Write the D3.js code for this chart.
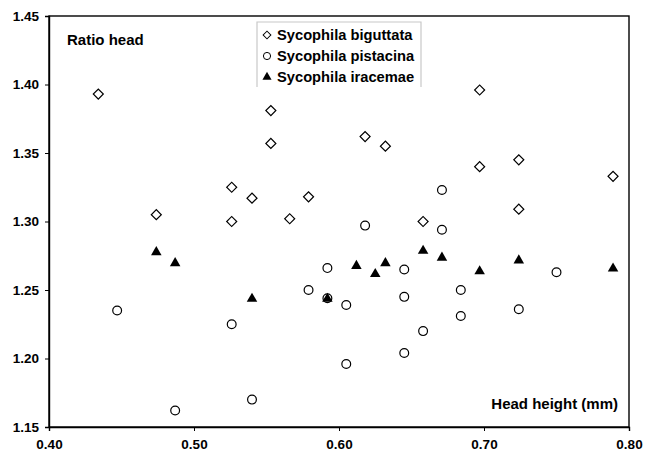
<!DOCTYPE html>
<html>
<head>
<meta charset="utf-8">
<script src="https://cdn.jsdelivr.net/npm/d3@7"></script>
<style>
  body { margin: 0; background: #fff; }
  text { font-family: "Liberation Sans", Arial, sans-serif; font-weight: bold; }
</style>
</head>
<body>
<svg id="chart" width="653" height="457"></svg>
<script>
// Sycophila biguttata
let bigX = [0.434, 0.474, 0.526, 0.526, 0.540, 0.553, 0.553, 0.566, 0.579, 0.618, 0.632, 0.658, 0.697, 0.697, 0.724, 0.724, 0.789];
let bigY = [1.393, 1.305, 1.325, 1.300, 1.317, 1.381, 1.357, 1.302, 1.318, 1.362, 1.355, 1.300, 1.396, 1.340, 1.345, 1.309, 1.333];
// Sycophila pistacina
let pisX = [0.447, 0.487, 0.526, 0.540, 0.579, 0.592, 0.592, 0.605, 0.605, 0.618, 0.645, 0.645, 0.645, 0.658, 0.671, 0.671, 0.684, 0.684, 0.724, 0.750];
let pisY = [1.235, 1.162, 1.225, 1.170, 1.250, 1.266, 1.244, 1.239, 1.196, 1.297, 1.265, 1.245, 1.204, 1.220, 1.323, 1.294, 1.250, 1.231, 1.236, 1.263];
// Sycophila iracemae
let iraX = [0.474, 0.487, 0.540, 0.592, 0.612, 0.625, 0.632, 0.658, 0.671, 0.697, 0.724, 0.789];
let iraY = [1.278, 1.270, 1.244, 1.244, 1.268, 1.262, 1.270, 1.279, 1.274, 1.264, 1.272, 1.266];

let xTicks = [0.40, 0.50, 0.60, 0.70, 0.80];
let yTicks = [1.15, 1.20, 1.25, 1.30, 1.35, 1.40, 1.45];
let seriesNames = ["Sycophila biguttata", "Sycophila pistacina", "Sycophila iracemae"];

let svg = d3.select("#chart"),
    margin = {top: 16, right: 24, bottom: 30, left: 49},
    width  = 653 - margin.left - margin.right,
    height = 457 - margin.top - margin.bottom,
    g = svg.append("g").attr("transform", `translate(${margin.left},${margin.top})`);

let x = d3.scaleLinear().domain([0.40, 0.80]).range([0, width]);
let y = d3.scaleLinear().domain([1.15, 1.45]).range([height, 0]);

// frame
g.append("rect")
 .attr("width", width).attr("height", height)
 .attr("fill", "none").attr("stroke", "#000").attr("stroke-width", 1.4);

let xAxis = g.append("g")
  .attr("transform", `translate(0,${height})`)
  .call(d3.axisBottom(x).tickValues(xTicks).tickFormat(d3.format(".2f")).tickSize(4).tickPadding(8));
let yAxis = g.append("g")
  .call(d3.axisLeft(y).tickValues(yTicks).tickFormat(d3.format(".2f")).tickSize(4).tickPadding(6));
[xAxis, yAxis].forEach(a => {
  a.select(".domain").attr("stroke", "#000").attr("stroke-width", 1.4);
  a.selectAll("text").attr("font-size", 13.5).attr("fill", "#000")
   .attr("font-family", "Liberation Sans, Arial, sans-serif").attr("font-weight", "bold");
});

let diamond = d3.symbol().type(d3.symbolSquare).size(50);
let tri = d3.symbol().type(d3.symbolTriangle).size(48);

let zip = (xs, ys) => xs.map((v, i) => [v, ys[i]]);

g.selectAll(".big").data(zip(bigX, bigY)).enter().append("path")
 .attr("d", diamond)
 .attr("transform", d => `translate(${x(d[0])},${y(d[1])}) rotate(45)`)
 .attr("fill", "#fff").attr("stroke", "#000").attr("stroke-width", 1.2);

g.selectAll(".pis").data(zip(pisX, pisY)).enter().append("circle")
 .attr("cx", d => x(d[0])).attr("cy", d => y(d[1])).attr("r", 4.4)
 .attr("fill", "#fff").attr("stroke", "#000").attr("stroke-width", 1.2);

g.selectAll(".ira").data(zip(iraX, iraY)).enter().append("path")
 .attr("d", tri)
 .attr("transform", d => `translate(${x(d[0])},${y(d[1]) + 0.5})`)
 .attr("fill", "#000");

// axis titles inside the plot
g.append("text").attr("x", 18).attr("y", 29).attr("font-size", 15).text("Ratio head");
g.append("text").attr("x", width - 11).attr("y", height - 18).attr("text-anchor", "end")
 .attr("font-size", 15).text("Head height (mm)");

// legend
let lg = svg.append("g").attr("transform", "translate(257,22)");
lg.append("path").attr("d", "M0,65 V0 H164 V65").attr("fill", "none").attr("stroke", "#c8c8c8").attr("stroke-width", 1.2);
seriesNames.forEach((name, i) => {
  let row = lg.append("g").attr("transform", `translate(10,${13 + i * 21})`);
  if (i === 0) row.append("path").attr("d", d3.symbol().type(d3.symbolSquare).size(30))
                  .attr("transform", "rotate(45)").attr("fill", "#fff").attr("stroke", "#000");
  if (i === 1) row.append("circle").attr("r", 3.6).attr("fill", "#fff").attr("stroke", "#000");
  if (i === 2) row.append("path").attr("d", d3.symbol().type(d3.symbolTriangle).size(36)).attr("fill", "#000");
  row.append("text").attr("x", 10).attr("y", 5).attr("font-size", 14.7).text(name);
});
</script>
</body>
</html>
